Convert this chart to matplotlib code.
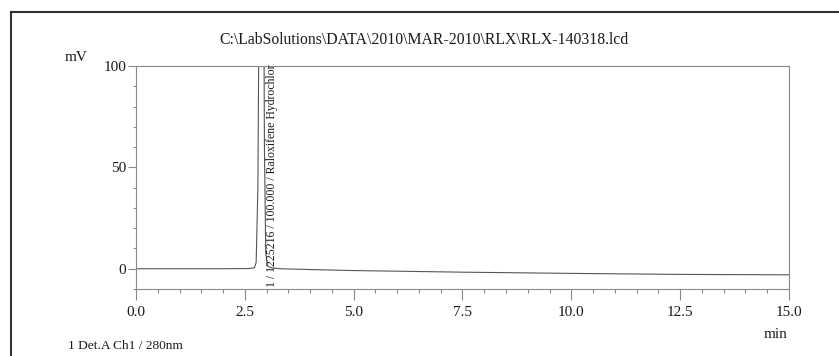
import matplotlib
matplotlib.use('Agg')
import numpy as np
from matplotlib import pyplot as plt
from matplotlib.lines import Line2D
from matplotlib.ticker import MultipleLocator

plt.rcParams['font.family'] = ['Liberation Serif', 'DejaVu Serif']

# chromatogram (min, mV); peak goes off scale
time_min = [0.0, 1.0, 2.0, 2.60, 2.72, 2.76, 2.80, 2.84, 2.88, 2.92, 2.95, 2.98, 3.02, 3.10,
            3.30, 4.0, 5.0, 7.5, 10.0, 12.5, 15.0]
signal_mv = [0.0, 0.0, 0.0, 0.1, 0.5, 3.0, 40.0, 180.0, 300.0, 220.0, 60.0, 8.0, 1.5, 0.5,
             0.0, -0.4, -0.9, -1.7, -2.3, -2.8, -3.0]

peak_time = 3.12
peak_label = '1 / 1225216 / 100.000 / Raloxifene Hydrochlor'
title = r'C:\LabSolutions\DATA\2010\MAR-2010\RLX\RLX-140318.lcd'
detector = '1 Det.A Ch1 / 280nm'

xticks = [0.0, 2.5, 5.0, 7.5, 10.0, 12.5, 15.0]
yticks = [0, 50, 100]

fig = plt.figure(figsize=(8.39, 3.56), dpi=100)
ax = fig.add_axes([0.1621, 0.1882, 0.7783, 0.6264])

axis_grey = '#8a8a8a'
ink = '#1a1a1a'

ax.plot(time_min, signal_mv, color='#555555', lw=0.8)

ax.set_xlim(0, 15)
ax.set_ylim(-10, 100)
ax.set_xticks(xticks)
ax.set_xticklabels([f'{t:.1f}' for t in xticks])
ax.set_yticks(yticks)
ax.xaxis.set_minor_locator(MultipleLocator(0.5))
ax.yaxis.set_minor_locator(MultipleLocator(10))

for s in ax.spines.values():
	s.set_color(axis_grey)
	s.set_linewidth(0.8)

ax.tick_params(axis='both', which='both', direction='out', color=axis_grey, width=0.8,
			   labelsize=11, labelcolor=ink)
ax.tick_params(axis='x', which='major', length=8, pad=4.5)
ax.tick_params(axis='x', which='minor', length=3)
ax.tick_params(axis='y', which='major', length=6, pad=1)
ax.tick_params(axis='y', which='minor', length=2.5)

ax.text(peak_time, -8.9, peak_label, rotation=90, ha='center', va='bottom',
		fontsize=8.5, color=ink, clip_on=False)

fig.text(0.505, 0.888, title, ha='center', va='center', fontsize=11.3, color=ink)
fig.text(0.0912, 0.838, 'mV', ha='center', va='center', fontsize=11, color=ink)
fig.text(0.924, 0.061, 'min', ha='center', va='center', fontsize=11, color=ink)
fig.text(0.081, 0.028, detector, ha='left', va='center', fontsize=9.6, color=ink)

# scanned page frame (top and left edges)
fig.add_artist(Line2D([11 / 839, 1.0], [1 - 12 / 356, 1 - 12 / 356], transform=fig.transFigure,
					  color='#333333', lw=1.5))
fig.add_artist(Line2D([11 / 839, 11 / 839], [0.0, 1 - 12 / 356], transform=fig.transFigure,
					  color='#333333', lw=1.5))

fig.savefig('out.png', dpi=100)
plt.close(fig)
